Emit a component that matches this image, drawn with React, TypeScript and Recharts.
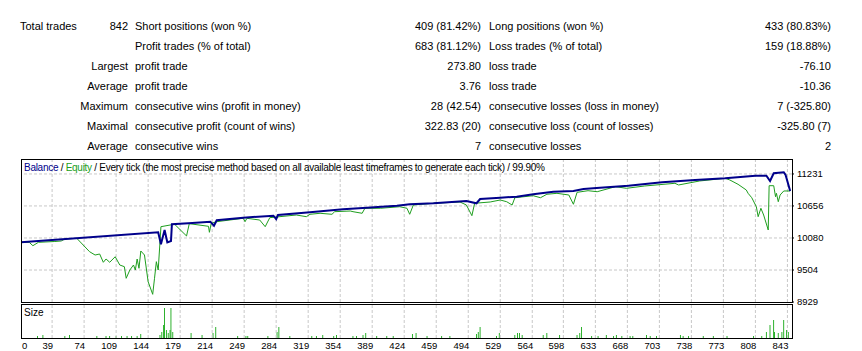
import React from 'react';
import { ComposedChart, Line, Bar, XAxis, YAxis, ReferenceLine } from 'recharts';

// report table
const TOTAL_LABEL = 'Total trades';
const COL_A = ['842', '', 'Largest', 'Average', 'Maximum', 'Maximal', 'Average'];
const COL_B = ['Short positions (won %)', 'Profit trades (% of total)', 'profit trade', 'profit trade',
  'consecutive wins (profit in money)', 'consecutive profit (count of wins)', 'consecutive wins'];
const COL_C = ['409 (81.42%)', '683 (81.12%)', '273.80', '3.76', '28 (42.54)', '322.83 (20)', '7'];
const COL_D = ['Long positions (won %)', 'Loss trades (% of total)', 'loss trade', 'loss trade',
  'consecutive losses (loss in money)', 'consecutive loss (count of losses)', 'consecutive losses'];
const COL_E = ['433 (80.83%)', '159 (18.88%)', '-76.10', '-10.36', '7 (-325.80)', '-325.80 (7)', '2'];

// axes
const X_TICKS = [0, 39, 74, 109, 144, 179, 214, 249, 284, 319, 354, 389, 424, 459, 494, 529, 564, 598, 633, 668, 703, 738, 773, 808, 843];
const X_DOMAIN = [5, 848];
const Y_TICKS = [8929, 9504, 10080, 10656, 11231];
const Y_DOMAIN = [8929, 11500];

// [deal, value]
const BALANCE = [
  [5, 10002], [155, 10182], [158, 9966], [162, 10224], [165, 10002], [169, 10026], [170, 10326],
  [188, 10344], [212, 10373], [216, 10301], [219, 10398], [248, 10445], [281, 10481], [284, 10421],
  [286, 10493], [321, 10542], [357, 10596], [383, 10624], [416, 10660], [430, 10686], [456, 10704],
  [492, 10745], [503, 10704], [507, 10781], [529, 10804], [547, 10822], [565, 10866], [587, 10912],
  [609, 10925], [620, 10961], [638, 10984], [669, 11020], [706, 11081], [742, 11123], [775, 11153],
  [808, 11200], [820, 11200], [824, 11105], [828, 11243], [839, 11261], [841, 11212], [846, 10925],
];

const EQUITY = [
  [5, 10002], [14, 10002], [18, 9941], [24, 10002], [42, 10017], [49, 10026], [53, 10062], [66, 10074],
  [80, 9833], [86, 9774], [91, 9792], [95, 9643], [98, 9702], [102, 9643], [108, 9743], [113, 9594],
  [118, 9564], [120, 9355], [124, 9504], [128, 9594], [130, 9504], [132, 9702], [134, 9535], [136, 9846],
  [140, 9774], [144, 9294], [149, 9067], [151, 9355], [153, 9654], [155, 9504], [157, 10013], [158, 10283],
  [168, 10313], [173, 10326], [186, 10116], [189, 10337], [210, 10290], [211, 10182], [213, 10344],
  [219, 10373], [248, 10434], [250, 10373], [252, 10434], [266, 10403], [272, 10283], [277, 10445],
  [306, 10493], [317, 10463], [321, 10506], [332, 10524], [345, 10506], [348, 10553], [365, 10565],
  [368, 10553], [378, 10524], [381, 10614], [398, 10614], [419, 10642], [427, 10614], [430, 10506],
  [434, 10673], [456, 10704], [485, 10727], [492, 10673], [498, 10481], [501, 10704], [518, 10727],
  [529, 10763], [536, 10732], [542, 10673], [545, 10804], [565, 10840], [573, 10804], [580, 10866],
  [591, 10883], [604, 10853], [609, 10686], [613, 10901], [625, 10930], [635, 10912], [655, 11002],
  [667, 10973], [687, 11015], [720, 11063], [724, 11033], [747, 11105], [775, 11153], [780, 11123],
  [789, 11045], [798, 10943], [800, 10883], [804, 10804], [809, 10642], [811, 10463], [814, 10614],
  [817, 10493], [822, 10224], [823, 11020], [828, 11020], [830, 10822], [831, 10883], [833, 10732],
  [835, 10853], [839, 10925], [846, 10925],
];

const SIZE = [
  [23, 0.02], [29, 0.03], [53, 0.02], [58, 0.03], [88, 0.02], [98, 0.02], [102, 0.02], [109, 0.02],
  [115, 0.02], [121, 0.02], [126, 0.02], [132, 0.02], [136, 0.04], [157, 0.03], [159, 0.06], [161, 0.13],
  [162, 0.3], [164, 0.08], [166, 0.05], [168, 0.08], [169, 0.3], [171, 0.06], [191, 0.05], [203, 0.03],
  [215, 0.05], [218, 0.11], [242, 0.02], [251, 0.02], [253, 0.02], [275, 0.02], [285, 0.06], [287, 0.11],
  [299, 0.02], [323, 0.02], [328, 0.02], [335, 0.03], [347, 0.02], [350, 0.03], [368, 0.02], [372, 0.02],
  [379, 0.03], [382, 0.05], [394, 0.02], [405, 0.02], [412, 0.02], [433, 0.04], [437, 0.05], [449, 0.02],
  [465, 0.02], [474, 0.02], [503, 0.04], [505, 0.06], [507, 0.11], [525, 0.02], [528, 0.05], [545, 0.03],
  [548, 0.05], [550, 0.05], [553, 0.03], [576, 0.03], [580, 0.05], [594, 0.03], [613, 0.03], [616, 0.05],
  [618, 0.11], [629, 0.02], [636, 0.02], [645, 0.03], [653, 0.02], [656, 0.03], [662, 0.02], [671, 0.02],
  [674, 0.02], [689, 0.03], [693, 0.02], [700, 0.02], [726, 0.03], [729, 0.02], [735, 0.02], [751, 0.02],
  [762, 0.02], [777, 0.02], [806, 0.02], [815, 0.02], [820, 0.06], [824, 0.13], [828, 0.18], [829, 0.06],
  [833, 0.05], [837, 0.06], [839, 0.18], [842, 0.08], [844, 0.06],
];

const toRows = (pts: number[][]) => pts.map(([t, v]) => ({ t, v }));

const FONT = '"Liberation Sans", Arial, sans-serif';
const NAVY = '#00008B';
const GREEN = '#1E9E1E';
const GRID = '#c8c8c8';
const PANE_LEFT = 21;

const XTick = ({ x, y, payload }: any) => {
  const first = payload.value === X_TICKS[0];
  return (
    <text x={first ? Math.max(x, PANE_LEFT) + 1 : x + 1} y={y} dy={11} textAnchor={first ? 'start' : 'end'}
      fontSize={9.5} fontFamily={FONT} fill="#000">{payload.value}</text>
  );
};

const cell = (left: number, width: number, top: number, align: 'left' | 'right', text: string, key: string) => (
  <div key={key} style={{ position: 'absolute', left, width, top, textAlign: align, whiteSpace: 'nowrap' }}>{text}</div>
);

export default function App() {
  const gridX = X_TICKS.slice(1).map((t) => (
    <ReferenceLine key={'x' + t} x={t} stroke={GRID} strokeDasharray="3 2" />
  ));
  return (
    <div style={{ position: 'relative', width: 862, height: 351, background: '#fff', fontFamily: FONT, fontSize: 11, lineHeight: '14px', color: '#000' }}>
      <style>{'body{margin:0}'}</style>

      {cell(20, 100, 19, 'left', TOTAL_LABEL, 'tl')}
      {COL_A.map((s, i) => cell(0, 128, 19 + i * 20, 'right', s, 'a' + i))}
      {COL_B.map((s, i) => cell(135, 300, 19 + i * 20, 'left', s, 'b' + i))}
      {COL_C.map((s, i) => cell(0, 481, 19 + i * 20, 'right', s, 'c' + i))}
      {COL_D.map((s, i) => cell(489, 300, 19 + i * 20, 'left', s, 'd' + i))}
      {COL_E.map((s, i) => cell(0, 831, 19 + i * 20, 'right', s, 'e' + i))}

      <div style={{ position: 'absolute', left: 0, top: 150 }}>
        <ComposedChart width={862} height={160} margin={{ top: 9, right: 0, bottom: 8, left: 21 }}>
          <XAxis type="number" dataKey="t" domain={X_DOMAIN} allowDataOverflow hide />
          <YAxis orientation="right" width={70} type="number" domain={Y_DOMAIN} allowDataOverflow ticks={Y_TICKS}
            interval={0} tickSize={2} tickMargin={3} axisLine={false} tickLine={{ stroke: '#000' }}
            tick={{ fontSize: 9.5, fill: '#000', fontFamily: FONT, textAnchor: 'start' }} />
          {gridX}
          {Y_TICKS.slice(1).map((v) => (
            <ReferenceLine key={'y' + v} y={v} stroke={GRID} strokeDasharray="3 2" />
          ))}
          <Line data={toRows(EQUITY)} dataKey="v" type="linear" stroke={GREEN} strokeWidth={1} dot={false} isAnimationActive={false} />
          <Line data={toRows(BALANCE)} dataKey="v" type="linear" stroke={NAVY} strokeWidth={2} dot={false} isAnimationActive={false} />
        </ComposedChart>
      </div>

      <div style={{ position: 'absolute', left: 0, top: 300 }}>
        <ComposedChart width={862} height={51} data={toRows(SIZE)} margin={{ top: 4, right: 70, bottom: 0, left: 21 }}>
          <XAxis type="number" dataKey="t" domain={X_DOMAIN} allowDataOverflow ticks={X_TICKS} interval={0}
            height={13} tickSize={0} tickMargin={0} tickLine={false} axisLine={false} tick={<XTick />} />
          <YAxis hide domain={[0, 0.34]} />
          {gridX}
          <Bar dataKey="v" fill="#00A000" barSize={1} isAnimationActive={false} />
        </ComposedChart>
      </div>

      <div style={{ position: 'absolute', left: 21, top: 159, width: 772, height: 144, boxSizing: 'border-box', border: '1px solid #000', pointerEvents: 'none' }} />
      <div style={{ position: 'absolute', left: 21, top: 304, width: 772, height: 35, boxSizing: 'border-box', border: '1px solid #000', pointerEvents: 'none' }} />

      <div style={{ position: 'absolute', left: 24, top: 162, fontSize: 10, lineHeight: '12px', letterSpacing: '-0.28px', whiteSpace: 'nowrap' }}>
        <span style={{ color: NAVY }}>Balance</span> / <span style={{ color: '#20A020' }}>Equity</span> / Every tick (the most precise method based on all available least timeframes to generate each tick) / 99.90%
      </div>
      <div style={{ position: 'absolute', left: 24, top: 307, fontSize: 10, lineHeight: '12px' }}>Size</div>
    </div>
  );
}
